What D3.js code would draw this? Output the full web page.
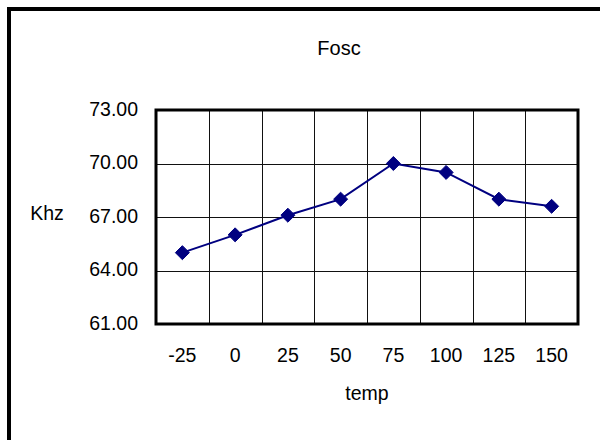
<!DOCTYPE html>
<html>
<head>
<meta charset="utf-8">
<script src="https://cdn.jsdelivr.net/npm/d3@7"></script>
<style>
  html, body { margin: 0; padding: 0; background: #fff; }
  svg { display: block; }
  text { font-family: "Liberation Sans", Arial, sans-serif; fill: #000; }
</style>
</head>
<body>
<svg id="chart" width="600" height="440"></svg>
<script>
const categories = ["-25", "0", "25", "50", "75", "100", "125", "150"];
const values = [65.0, 66.0, 67.1, 68.0, 70.0, 69.5, 68.0, 67.6];
const yTicks = [61, 64, 67, 70, 73];
const title = "Fosc";
const xTitle = "temp";
const yTitle = "Khz";

const svg = d3.select("#chart");
const plot = { left: 156, right: 578, top: 110, bottom: 324 };

// outer frame
svg.append("rect")
  .attr("x", 9).attr("y", 9)
  .attr("width", 700).attr("height", 500)
  .attr("fill", "#fff").attr("stroke", "#000").attr("stroke-width", 4);

const x = d3.scaleBand().domain(categories).range([plot.left, plot.right]);
const y = d3.scaleLinear().domain([61, 73]).range([plot.bottom, plot.top]);

// vertical gridlines (category boundaries)
const g = svg.append("g");
g.selectAll("line.vg").data(categories.slice(1)).enter().append("line")
  .attr("x1", d => Math.round(x(d)) + 0.5).attr("x2", d => Math.round(x(d)) + 0.5)
  .attr("y1", plot.top).attr("y2", plot.bottom)
  .attr("stroke", "#111").attr("stroke-width", 1);
// horizontal gridlines
g.selectAll("line.hg").data(yTicks.slice(1, -1)).enter().append("line")
  .attr("x1", plot.left).attr("x2", plot.right)
  .attr("y1", d => Math.round(y(d)) + 0.5).attr("y2", d => Math.round(y(d)) + 0.5)
  .attr("stroke", "#111").attr("stroke-width", 1);

// plot border
svg.append("rect")
  .attr("x", plot.left).attr("y", plot.top)
  .attr("width", plot.right - plot.left).attr("height", plot.bottom - plot.top)
  .attr("fill", "none").attr("stroke", "#000").attr("stroke-width", 3);

// y axis labels
const yAxis = d3.axisLeft(y).tickValues(yTicks).tickFormat(d3.format(".2f")).tickSize(0).tickPadding(18);
const ya = svg.append("g").attr("transform", `translate(${plot.left},0)`).call(yAxis);
ya.select(".domain").remove();
ya.selectAll("text").attr("font-size", "19.5px").attr("font-family", "Liberation Sans, Arial, sans-serif")
  .attr("fill", "#000").attr("dy", "0.26em");

// x axis labels
const xAxis = d3.axisBottom(x).tickSize(0).tickPadding(24);
const xa = svg.append("g").attr("transform", `translate(0,${plot.bottom})`).call(xAxis);
xa.select(".domain").remove();
xa.selectAll("text").attr("font-size", "19.5px").attr("font-family", "Liberation Sans, Arial, sans-serif")
  .attr("fill", "#000");

// line
const line = d3.line()
  .x((d, i) => x(categories[i]) + x.bandwidth() / 2)
  .y(d => y(d));
svg.append("path").datum(values)
  .attr("d", line).attr("fill", "none")
  .attr("stroke", "#000080").attr("stroke-width", 2);

// diamond markers
svg.selectAll("path.m").data(values).enter().append("path")
  .attr("d", d3.symbol().type(d3.symbolDiamond2).size(125))
  .attr("transform", (d, i) => `translate(${x(categories[i]) + x.bandwidth() / 2},${y(d)})`)
  .attr("fill", "#000080").attr("stroke", "#000080").attr("stroke-width", 1);

// titles
svg.append("text").attr("x", 339).attr("y", 55).attr("text-anchor", "middle")
  .attr("font-size", "20px").text(title);
svg.append("text").attr("x", 367).attr("y", 400).attr("text-anchor", "middle")
  .attr("font-size", "19.5px").text(xTitle);
svg.append("text").attr("x", 47).attr("y", 220).attr("text-anchor", "middle")
  .attr("font-size", "19.5px").text(yTitle);
</script>
</body>
</html>
